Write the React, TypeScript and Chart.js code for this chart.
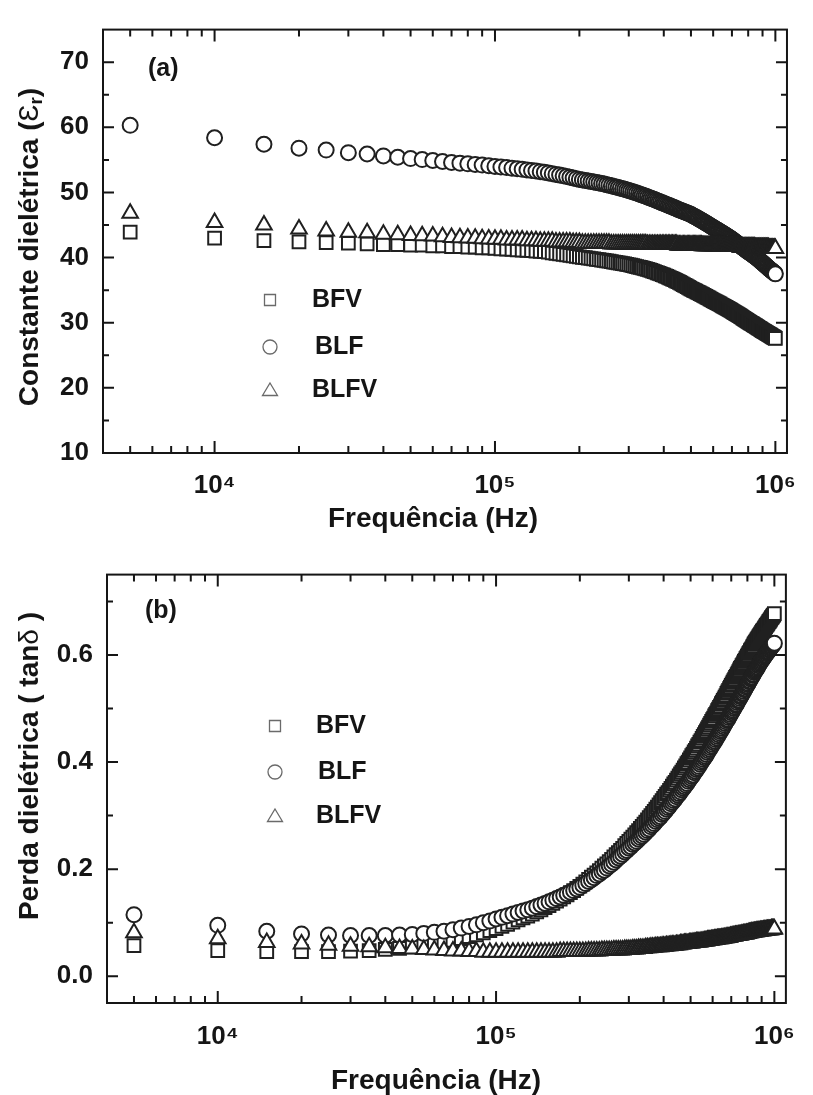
import React, { useEffect, useRef } from 'react';
import { Chart, registerables } from 'chart.js';

Chart.register(...registerables);

const FONT = "'Liberation Sans', Arial, Helvetica, sans-serif";
const INK = '#151515';

// ---------------- data ----------------
// measurement frequencies (kHz)
const FREQ_KHZ = [
  5, 10, 15, 20, 25, 30, 35, 40, 45, 50, 55, 60, 65, 70, 75, 80, 85, 90, 95, 100,
  105, 110, 115, 120, 125, 130, 135, 140, 145, 150, 155, 160, 165, 170, 175, 180, 185, 190, 195, 200,
  205, 210, 215, 220, 225, 230, 235, 240, 245, 250, 255, 260, 265, 270, 275, 280, 285, 290, 295, 300,
  305, 310, 315, 320, 325, 330, 335, 340, 345, 350, 355, 360, 365, 370, 375, 380, 385, 390, 395, 400,
  405, 410, 415, 420, 425, 430, 435, 440, 445, 450, 455, 460, 465, 470, 475, 480, 485, 490, 495, 500,
  505, 510, 515, 520, 525, 530, 535, 540, 545, 550, 555, 560, 565, 570, 575, 580, 585, 590, 595, 600,
  605, 610, 615, 620, 625, 630, 635, 640, 645, 650, 655, 660, 665, 670, 675, 680, 685, 690, 695, 700,
  705, 710, 715, 720, 725, 730, 735, 740, 745, 750, 755, 760, 765, 770, 775, 780, 785, 790, 795, 800,
  805, 810, 815, 820, 825, 830, 835, 840, 845, 850, 855, 860, 865, 870, 875, 880, 885, 890, 895, 900,
  905, 910, 915, 920, 925, 930, 935, 940, 945, 950, 955, 960, 965, 970, 975, 980, 985, 990, 995, 1000,
];

// (a) dielectric constant
const EPS_BFV = [
  43.9, 43.0, 42.6, 42.4, 42.3, 42.2, 42.1, 42.0, 42.0, 41.9, 41.9, 41.8, 41.8, 41.7, 41.7, 41.6, 41.6, 41.5, 41.5, 41.4,
  41.35, 41.3, 41.25, 41.2, 41.15, 41.1, 41.05, 41.0, 40.95, 40.9, 40.82, 40.74, 40.66, 40.58, 40.5, 40.42, 40.34, 40.26, 40.18, 40.1,
  40.04, 39.98, 39.92, 39.86, 39.8, 39.74, 39.68, 39.62, 39.56, 39.5, 39.44, 39.38, 39.32, 39.26, 39.2, 39.14, 39.08, 39.02, 38.96, 38.9,
  38.83, 38.76, 38.69, 38.62, 38.55, 38.48, 38.41, 38.34, 38.27, 38.2, 38.11, 38.02, 37.93, 37.84, 37.75, 37.66, 37.57, 37.48, 37.39, 37.3,
  37.2, 37.1, 37.0, 36.9, 36.8, 36.7, 36.6, 36.5, 36.4, 36.3, 36.19, 36.08, 35.97, 35.86, 35.75, 35.64, 35.53, 35.42, 35.31, 35.2,
  35.11, 35.02, 34.93, 34.84, 34.75, 34.66, 34.57, 34.48, 34.39, 34.3, 34.21, 34.12, 34.03, 33.94, 33.85, 33.76, 33.67, 33.58, 33.49, 33.4,
  33.32, 33.24, 33.16, 33.08, 33.0, 32.92, 32.84, 32.76, 32.68, 32.6, 32.52, 32.44, 32.36, 32.28, 32.2, 32.12, 32.04, 31.96, 31.88, 31.8,
  31.72, 31.64, 31.56, 31.48, 31.4, 31.32, 31.24, 31.16, 31.08, 31.0, 30.92, 30.84, 30.76, 30.68, 30.6, 30.52, 30.44, 30.36, 30.28, 30.2,
  30.13, 30.06, 29.99, 29.92, 29.85, 29.78, 29.71, 29.64, 29.57, 29.5, 29.43, 29.36, 29.29, 29.22, 29.15, 29.08, 29.01, 28.94, 28.87, 28.8,
  28.74, 28.68, 28.62, 28.56, 28.5, 28.44, 28.38, 28.32, 28.26, 28.2, 28.14, 28.08, 28.02, 27.96, 27.9, 27.84, 27.78, 27.72, 27.66, 27.6,
];
const EPS_BLF = [
  60.3, 58.4, 57.4, 56.8, 56.5, 56.1, 55.9, 55.6, 55.4, 55.2, 55.05, 54.9, 54.75, 54.6, 54.5, 54.4, 54.3, 54.2, 54.1, 54.0,
  53.91, 53.82, 53.73, 53.64, 53.55, 53.46, 53.37, 53.28, 53.19, 53.1, 52.99, 52.88, 52.77, 52.66, 52.55, 52.44, 52.33, 52.22, 52.11, 52.0,
  51.92, 51.84, 51.76, 51.68, 51.6, 51.52, 51.44, 51.36, 51.28, 51.2, 51.11, 51.02, 50.93, 50.84, 50.75, 50.66, 50.57, 50.48, 50.39, 50.3,
  50.2, 50.1, 50.0, 49.9, 49.8, 49.7, 49.6, 49.5, 49.4, 49.3, 49.2, 49.1, 49.0, 48.9, 48.8, 48.7, 48.6, 48.5, 48.4, 48.3,
  48.21, 48.12, 48.03, 47.94, 47.85, 47.76, 47.67, 47.58, 47.49, 47.4, 47.32, 47.24, 47.16, 47.08, 47.0, 46.92, 46.84, 46.76, 46.68, 46.6,
  46.5, 46.4, 46.3, 46.2, 46.1, 46.0, 45.9, 45.8, 45.7, 45.6, 45.5, 45.4, 45.3, 45.2, 45.1, 45.0, 44.9, 44.8, 44.7, 44.6,
  44.51, 44.42, 44.33, 44.24, 44.15, 44.06, 43.97, 43.88, 43.79, 43.7, 43.61, 43.52, 43.43, 43.34, 43.25, 43.16, 43.07, 42.98, 42.89, 42.8,
  42.7, 42.6, 42.5, 42.4, 42.3, 42.2, 42.1, 42.0, 41.9, 41.8, 41.71, 41.62, 41.53, 41.44, 41.35, 41.26, 41.17, 41.08, 40.99, 40.9,
  40.82, 40.74, 40.66, 40.58, 40.5, 40.42, 40.34, 40.26, 40.18, 40.1, 40.01, 39.92, 39.83, 39.74, 39.65, 39.56, 39.47, 39.38, 39.29, 39.2,
  39.11, 39.02, 38.93, 38.84, 38.75, 38.66, 38.57, 38.48, 38.39, 38.3, 38.22, 38.14, 38.06, 37.98, 37.9, 37.82, 37.74, 37.66, 37.58, 37.5,
];
const EPS_BLFV = [
  46.8, 45.4, 45.0, 44.4, 44.1, 43.9, 43.8, 43.6, 43.5, 43.4, 43.35, 43.3, 43.2, 43.1, 43.05, 43.0, 42.95, 42.9, 42.85, 42.8,
  42.8, 42.7, 42.7, 42.7, 42.7, 42.6, 42.6, 42.6, 42.5, 42.5, 42.5, 42.5, 42.4, 42.4, 42.4, 42.4, 42.4, 42.3, 42.3, 42.3,
  42.2, 42.2, 42.2, 42.2, 42.2, 42.2, 42.2, 42.2, 42.2, 42.2, 42.2, 42.1, 42.1, 42.1, 42.1, 42.1, 42.1, 42.1, 42.1, 42.1,
  42.1, 42.1, 42.1, 42.1, 42.1, 42.1, 42.1, 42.1, 42.1, 42.0, 42.0, 42.0, 42.0, 42.0, 42.0, 42.0, 42.0, 42.0, 42.0, 42.0,
  42.0, 42.0, 42.0, 42.0, 42.0, 42.0, 42.0, 42.0, 42.0, 41.9, 41.9, 41.9, 41.9, 41.9, 41.9, 41.9, 41.9, 41.9, 41.9, 41.9,
  41.9, 41.9, 41.9, 41.9, 41.9, 41.9, 41.9, 41.9, 41.9, 41.8, 41.8, 41.8, 41.8, 41.8, 41.8, 41.8, 41.8, 41.8, 41.8, 41.8,
  41.8, 41.8, 41.8, 41.8, 41.8, 41.8, 41.8, 41.8, 41.8, 41.7, 41.7, 41.7, 41.7, 41.7, 41.7, 41.7, 41.7, 41.7, 41.7, 41.7,
  41.7, 41.7, 41.7, 41.7, 41.7, 41.7, 41.7, 41.7, 41.7, 41.6, 41.6, 41.6, 41.6, 41.6, 41.6, 41.6, 41.6, 41.6, 41.6, 41.6,
  41.6, 41.6, 41.6, 41.6, 41.6, 41.6, 41.6, 41.6, 41.6, 41.5, 41.5, 41.5, 41.5, 41.5, 41.5, 41.5, 41.5, 41.5, 41.5, 41.5,
  41.5, 41.5, 41.5, 41.5, 41.5, 41.5, 41.5, 41.5, 41.5, 41.4, 41.4, 41.4, 41.4, 41.4, 41.4, 41.4, 41.4, 41.4, 41.4, 41.4,
];

// (b) dielectric loss tangent
const TAN_BFV = [
  0.057, 0.048, 0.046, 0.046, 0.046, 0.047, 0.048, 0.050, 0.052, 0.055, 0.057, 0.060, 0.063, 0.067, 0.070, 0.074, 0.077, 0.081, 0.085, 0.089,
  0.093, 0.097, 0.101, 0.105, 0.109, 0.112, 0.116, 0.120, 0.124, 0.128, 0.132, 0.136, 0.140, 0.144, 0.148, 0.152, 0.156, 0.160, 0.164, 0.168,
  0.172, 0.176, 0.181, 0.185, 0.189, 0.193, 0.197, 0.202, 0.206, 0.210, 0.214, 0.218, 0.223, 0.227, 0.231, 0.235, 0.239, 0.244, 0.248, 0.252,
  0.256, 0.260, 0.264, 0.268, 0.272, 0.276, 0.280, 0.284, 0.288, 0.292, 0.296, 0.300, 0.304, 0.308, 0.312, 0.316, 0.320, 0.324, 0.328, 0.332,
  0.336, 0.340, 0.343, 0.347, 0.351, 0.355, 0.359, 0.362, 0.366, 0.370, 0.374, 0.378, 0.381, 0.385, 0.389, 0.393, 0.397, 0.400, 0.404, 0.408,
  0.412, 0.415, 0.419, 0.422, 0.426, 0.430, 0.433, 0.437, 0.440, 0.444, 0.448, 0.451, 0.455, 0.458, 0.462, 0.465, 0.469, 0.472, 0.476, 0.479,
  0.482, 0.486, 0.489, 0.492, 0.496, 0.499, 0.502, 0.505, 0.509, 0.512, 0.515, 0.518, 0.521, 0.524, 0.528, 0.531, 0.534, 0.537, 0.540, 0.543,
  0.546, 0.549, 0.552, 0.555, 0.558, 0.560, 0.563, 0.566, 0.569, 0.572, 0.575, 0.577, 0.580, 0.582, 0.585, 0.588, 0.590, 0.593, 0.595, 0.598,
  0.600, 0.603, 0.605, 0.608, 0.610, 0.612, 0.615, 0.617, 0.620, 0.622, 0.624, 0.626, 0.628, 0.630, 0.632, 0.634, 0.636, 0.638, 0.640, 0.642,
  0.644, 0.646, 0.647, 0.649, 0.651, 0.653, 0.655, 0.656, 0.658, 0.660, 0.662, 0.663, 0.665, 0.667, 0.669, 0.670, 0.672, 0.674, 0.675, 0.677,
];
const TAN_BLF = [
  0.115, 0.095, 0.084, 0.079, 0.077, 0.076, 0.076, 0.076, 0.077, 0.078, 0.080, 0.082, 0.084, 0.087, 0.090, 0.093, 0.096, 0.100, 0.103, 0.107,
  0.110, 0.113, 0.116, 0.119, 0.122, 0.124, 0.127, 0.130, 0.133, 0.136, 0.139, 0.142, 0.145, 0.148, 0.151, 0.154, 0.157, 0.160, 0.163, 0.166,
  0.170, 0.173, 0.177, 0.180, 0.184, 0.188, 0.191, 0.195, 0.198, 0.202, 0.206, 0.209, 0.213, 0.217, 0.221, 0.224, 0.228, 0.232, 0.235, 0.239,
  0.242, 0.246, 0.249, 0.252, 0.256, 0.259, 0.262, 0.265, 0.269, 0.272, 0.275, 0.279, 0.282, 0.285, 0.289, 0.292, 0.295, 0.298, 0.302, 0.305,
  0.308, 0.312, 0.315, 0.318, 0.322, 0.325, 0.328, 0.331, 0.335, 0.338, 0.341, 0.344, 0.348, 0.351, 0.354, 0.357, 0.360, 0.364, 0.367, 0.370,
  0.373, 0.376, 0.380, 0.383, 0.386, 0.389, 0.392, 0.396, 0.399, 0.402, 0.405, 0.408, 0.411, 0.414, 0.418, 0.421, 0.424, 0.427, 0.430, 0.433,
  0.436, 0.439, 0.442, 0.445, 0.448, 0.451, 0.454, 0.457, 0.460, 0.463, 0.466, 0.469, 0.472, 0.475, 0.478, 0.480, 0.483, 0.486, 0.489, 0.492,
  0.495, 0.497, 0.500, 0.503, 0.506, 0.508, 0.511, 0.514, 0.516, 0.519, 0.522, 0.524, 0.527, 0.529, 0.532, 0.535, 0.537, 0.540, 0.542, 0.545,
  0.547, 0.550, 0.552, 0.555, 0.557, 0.559, 0.562, 0.564, 0.567, 0.569, 0.571, 0.573, 0.575, 0.577, 0.580, 0.582, 0.584, 0.586, 0.588, 0.590,
  0.592, 0.593, 0.595, 0.597, 0.599, 0.600, 0.602, 0.604, 0.605, 0.607, 0.609, 0.610, 0.612, 0.613, 0.615, 0.616, 0.618, 0.619, 0.621, 0.622,
];
const TAN_BLFV = [
  0.081, 0.070, 0.063, 0.060, 0.058, 0.056, 0.055, 0.053, 0.052, 0.051, 0.050, 0.049, 0.048, 0.047, 0.047, 0.046, 0.046, 0.045, 0.045, 0.045,
  0.045, 0.045, 0.045, 0.045, 0.045, 0.045, 0.045, 0.045, 0.045, 0.045, 0.045, 0.045, 0.045, 0.046, 0.046, 0.046, 0.046, 0.046, 0.046, 0.046,
  0.046, 0.046, 0.047, 0.047, 0.047, 0.047, 0.047, 0.048, 0.048, 0.048, 0.048, 0.048, 0.049, 0.049, 0.049, 0.049, 0.049, 0.050, 0.050, 0.050,
  0.050, 0.051, 0.051, 0.051, 0.052, 0.052, 0.052, 0.052, 0.053, 0.053, 0.053, 0.054, 0.054, 0.054, 0.055, 0.055, 0.055, 0.055, 0.056, 0.056,
  0.056, 0.057, 0.057, 0.057, 0.058, 0.058, 0.058, 0.058, 0.059, 0.059, 0.059, 0.060, 0.060, 0.060, 0.061, 0.061, 0.061, 0.061, 0.062, 0.062,
  0.062, 0.063, 0.063, 0.063, 0.064, 0.064, 0.064, 0.064, 0.065, 0.065, 0.065, 0.066, 0.066, 0.066, 0.067, 0.067, 0.067, 0.067, 0.068, 0.068,
  0.068, 0.069, 0.069, 0.069, 0.070, 0.070, 0.070, 0.070, 0.071, 0.071, 0.071, 0.072, 0.072, 0.072, 0.073, 0.073, 0.073, 0.073, 0.074, 0.074,
  0.074, 0.075, 0.075, 0.075, 0.076, 0.076, 0.076, 0.076, 0.077, 0.077, 0.077, 0.078, 0.078, 0.078, 0.079, 0.079, 0.079, 0.079, 0.080, 0.080,
  0.080, 0.081, 0.081, 0.081, 0.082, 0.082, 0.082, 0.082, 0.083, 0.083, 0.083, 0.083, 0.084, 0.084, 0.084, 0.084, 0.084, 0.085, 0.085, 0.085,
  0.085, 0.085, 0.086, 0.086, 0.086, 0.086, 0.086, 0.087, 0.087, 0.087, 0.087, 0.087, 0.087, 0.087, 0.088, 0.088, 0.088, 0.088, 0.088, 0.088,
];

const SERIES_NAMES = ['BFV', 'BLF', 'BLFV'];
const X_MAJOR = [1e4, 1e5, 1e6];
const X_MAJOR_LABELS = ['10\u2074', '10\u2075', '10\u2076'];
const X_MINOR = [5e3, 6e3, 7e3, 8e3, 9e3, 2e4, 3e4, 4e4, 5e4, 6e4, 7e4, 8e4, 9e4, 2e5, 3e5, 4e5, 5e5, 6e5, 7e5, 8e5, 9e5];
const EPS_MAJOR = [10, 20, 30, 40, 50, 60, 70];
const EPS_MINOR = [15, 25, 35, 45, 55, 65];
const TAN_MAJOR = [0, 0.2, 0.4, 0.6];
const TAN_MINOR = [0.1, 0.3, 0.5, 0.7];

// ---------------- styling / layout ----------------
const POINT_STYLES = ['rect', 'circle', 'triangle'];
const POINT_RADII = [9, 7.5, 9];
const DRAW_ORDER = [2, 1, 0];

type Part = { t: string; font: string; dy?: number };
type Panel = {
  canvasTop: number;
  canvasHeight: number;
  area: { left: number; right: number; top: number; bottom: number };
  xMin: number;
  xMax: number;
  yMin: number;
  yMax: number;
  yMajor: number[];
  yMinor: number[];
  yFmt: (v: number) => string;
  series: number[][];
  tag: string;
  tagPos: [number, number];
  legendSymX: number;
  legendTextX: number[];
  legendY: number[];
  yTitle: Part[];
  yTitleCenter: [number, number];
  xTitle: string;
  xTitleCenter: [number, number];
  xPad: number;
};

const B = (s: number) => `bold ${s}px ${FONT}`;
const N = (s: number) => `${s}px ${FONT}`;

const PANELS: Panel[] = [
  {
    canvasTop: 0,
    canvasHeight: 545,
    area: { left: 103, right: 802, top: 13, bottom: 453 },
    xMin: 4000,
    xMax: 1.1e6,
    yMin: 10,
    yMax: 75,
    yMajor: EPS_MAJOR,
    yMinor: EPS_MINOR,
    yFmt: (v) => String(v),
    series: [EPS_BFV, EPS_BLF, EPS_BLFV],
    tag: '(a)',
    tagPos: [148, 69],
    legendSymX: 270,
    legendTextX: [312, 315, 312],
    legendY: [300, 347, 390],
    yTitle: [
      { t: 'Constante dielétrica (', font: B(28) },
      { t: '\u0190', font: N(28) },
      { t: 'r', font: B(19), dy: 7 },
      { t: ')', font: B(28) },
    ],
    yTitleCenter: [30, 247],
    xTitle: 'Frequência (Hz)',
    xTitleCenter: [433, 519],
    xPad: 17,
  },
  {
    canvasTop: 545,
    canvasHeight: 550,
    area: { left: 107, right: 805, top: 563, bottom: 1003 },
    xMin: 4000,
    xMax: 1.1e6,
    yMin: -0.05,
    yMax: 0.75,
    yMajor: TAN_MAJOR,
    yMinor: TAN_MINOR,
    yFmt: (v) => v.toFixed(1),
    series: [TAN_BFV, TAN_BLF, TAN_BLFV],
    tag: '(b)',
    tagPos: [145, 611],
    legendSymX: 275,
    legendTextX: [316, 318, 316],
    legendY: [726, 772, 816],
    yTitle: [
      { t: 'Perda dielétrica ( tan', font: B(28) },
      { t: '\u03B4', font: N(28) },
      { t: ' )', font: B(28) },
    ],
    yTitleCenter: [30, 766],
    xTitle: 'Frequência (Hz)',
    xTitleCenter: [436, 1081],
    xPad: 18,
  },
];

function drawSymbol(ctx: CanvasRenderingContext2D, style: string, x: number, y: number) {
  ctx.beginPath();
  if (style === 'rect') {
    ctx.rect(x - 5.5, y - 5.5, 11, 11);
  } else if (style === 'circle') {
    ctx.arc(x, y, 7, 0, Math.PI * 2);
  } else {
    ctx.moveTo(x, y - 7);
    ctx.lineTo(x + 7.5, y + 5.5);
    ctx.lineTo(x - 7.5, y + 5.5);
    ctx.closePath();
  }
  ctx.stroke();
}

function buildConfig(p: Panel): any {
  const off = p.canvasTop;
  const framePlugin = {
    id: 'frameTicks',
    afterDatasetsDraw(chart: any) {
      const { ctx, chartArea: a } = chart;
      const xs = chart.scales.x;
      const ys = chart.scales.y;
      ctx.save();
      ctx.strokeStyle = INK;
      ctx.lineWidth = 2;
      ctx.beginPath();
      const seg = (x1: number, y1: number, x2: number, y2: number) => {
        ctx.moveTo(x1, y1);
        ctx.lineTo(x2, y2);
      };
      X_MAJOR.forEach((v) => {
        const px = xs.getPixelForValue(v);
        seg(px, a.bottom, px, a.bottom - 12);
        seg(px, a.top, px, a.top + 12);
      });
      X_MINOR.forEach((v) => {
        const px = xs.getPixelForValue(v);
        seg(px, a.bottom, px, a.bottom - 7);
        seg(px, a.top, px, a.top + 7);
      });
      p.yMajor.forEach((v) => {
        const py = ys.getPixelForValue(v);
        seg(a.left, py, a.left + 11, py);
        seg(a.right, py, a.right - 11, py);
      });
      p.yMinor.forEach((v) => {
        const py = ys.getPixelForValue(v);
        seg(a.left, py, a.left + 6, py);
        seg(a.right, py, a.right - 6, py);
      });
      ctx.stroke();
      ctx.strokeRect(a.left, a.top, a.right - a.left, a.bottom - a.top);
      ctx.restore();
    },
  };
  const textPlugin = {
    id: 'panelTexts',
    afterDraw(chart: any) {
      const ctx: CanvasRenderingContext2D = chart.ctx;
      ctx.save();
      ctx.fillStyle = INK;
      ctx.textBaseline = 'middle';
      // panel tag
      ctx.font = B(25);
      ctx.textAlign = 'left';
      ctx.fillText(p.tag, p.tagPos[0], p.tagPos[1] - off);
      // legend
      ctx.strokeStyle = '#6a6a6a';
      ctx.lineWidth = 1.3;
      SERIES_NAMES.forEach((name, i) => {
        const y = p.legendY[i] - off;
        drawSymbol(ctx, POINT_STYLES[i], p.legendSymX, y);
        ctx.fillText(name, p.legendTextX[i], y);
      });
      // x title
      ctx.font = B(28);
      ctx.textAlign = 'center';
      ctx.fillText(p.xTitle, p.xTitleCenter[0], p.xTitleCenter[1] - off);
      // y title (rotated)
      ctx.translate(p.yTitleCenter[0], p.yTitleCenter[1] - off);
      ctx.rotate(-Math.PI / 2);
      ctx.textAlign = 'left';
      let total = 0;
      p.yTitle.forEach((part) => {
        ctx.font = part.font;
        total += ctx.measureText(part.t).width;
      });
      let x = -total / 2;
      p.yTitle.forEach((part) => {
        ctx.font = part.font;
        ctx.fillText(part.t, x, part.dy || 0);
        x += ctx.measureText(part.t).width;
      });
      ctx.restore();
    },
  };

  return {
    type: 'scatter',
    data: {
      datasets: p.series.map((vals, i) => ({
        label: SERIES_NAMES[i],
        data: FREQ_KHZ.map((f, k) => ({ x: f * 1000, y: vals[k] })),
        pointStyle: POINT_STYLES[i],
        pointRadius: POINT_RADII[i],
        pointHoverRadius: POINT_RADII[i],
        pointBorderColor: '#202020',
        pointBackgroundColor: '#ffffff',
        pointBorderWidth: 2,
        showLine: false,
        order: DRAW_ORDER[i],
      })),
    },
    options: {
      animation: false,
      responsive: false,
      maintainAspectRatio: false,
      devicePixelRatio: 1,
      events: [],
      layout: {
        padding: {
          left: 0,
          top: p.area.top - off,
          right: 813 - p.area.right,
          bottom: 0,
        },
      },
      plugins: {
        legend: { display: false },
        tooltip: { enabled: false },
        title: { display: false },
      },
      scales: {
        x: {
          type: 'logarithmic',
          position: 'bottom',
          min: p.xMin,
          max: p.xMax,
          afterBuildTicks: (s: any) => {
            s.ticks = X_MAJOR.map((v) => ({ value: v }));
          },
          afterFit: (s: any) => {
            s.height = p.canvasHeight - (p.area.bottom - off);
          },
          grid: { display: false, drawTicks: false },
          border: { display: false },
          ticks: {
            autoSkip: false,
            maxRotation: 0,
            padding: p.xPad,
            color: INK,
            font: { family: FONT, size: 26, weight: 'bold' },
            callback: (v: any) => {
              const i = X_MAJOR.indexOf(Number(v));
              return i >= 0 ? X_MAJOR_LABELS[i] : '';
            },
          },
        },
        y: {
          type: 'linear',
          position: 'left',
          min: p.yMin,
          max: p.yMax,
          afterBuildTicks: (s: any) => {
            s.ticks = p.yMajor.map((v) => ({ value: v }));
          },
          afterFit: (s: any) => {
            s.width = p.area.left;
          },
          grid: { display: false, drawTicks: false },
          border: { display: false },
          ticks: {
            padding: 14,
            color: INK,
            font: { family: FONT, size: 26, weight: 'bold' },
            callback: (v: any) => p.yFmt(Number(v)),
          },
        },
      },
    },
    plugins: [framePlugin, textPlugin],
  };
}

function PanelChart({ panel }: { panel: Panel }) {
  const ref = useRef<HTMLCanvasElement | null>(null);
  useEffect(() => {
    if (!ref.current) return;
    const chart = new Chart(ref.current, buildConfig(panel));
    return () => chart.destroy();
  }, [panel]);
  return (
    <canvas
      ref={ref}
      width={813}
      height={panel.canvasHeight}
      style={{ position: 'absolute', left: 0, top: panel.canvasTop, width: 813, height: panel.canvasHeight }}
    />
  );
}

export default function App() {
  return (
    <div style={{ position: 'absolute', left: 0, top: 0, width: 813, height: 1095, background: '#ffffff' }}>
      {PANELS.map((p, i) => (
        <PanelChart key={i} panel={p} />
      ))}
    </div>
  );
}
